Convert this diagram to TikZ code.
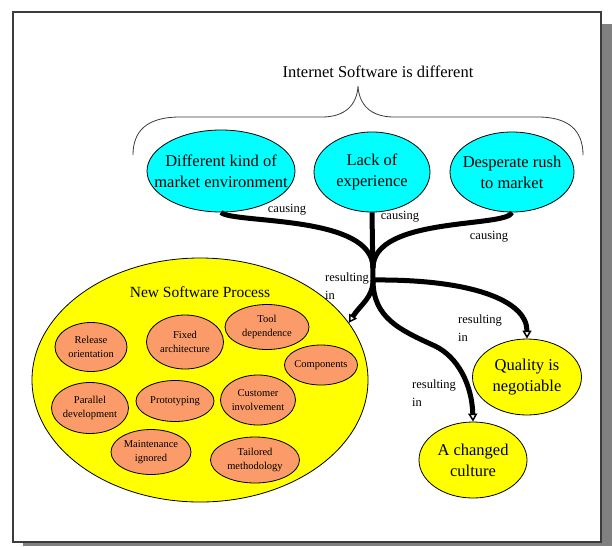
\documentclass[tikz,border=0pt]{standalone}
\usepackage{fontspec}
\setmainfont{Liberation Serif}
\usetikzlibrary{arrows.meta,shapes.geometric}
\definecolor{causecyan}{RGB}{0,255,255}
\definecolor{resultyellow}{RGB}{255,255,0}
\definecolor{practiceorange}{RGB}{250,155,105}
\definecolor{shadowgrey}{RGB}{128,128,128}
\definecolor{framegrey}{RGB}{60,60,60}

\begin{document}
\begin{tikzpicture}[x=1pt,y=-1pt,
  blob/.style={ellipse,draw=black,line width=0.8pt,inner sep=0pt},
  bigtext/.style={align=center,font=\fontsize{16.5}{21}\selectfont},
  smalltext/.style={align=center,font=\fontsize{10.5}{14.5}\selectfont},
  cause/.style={blob,fill=causecyan},
  result/.style={blob,fill=resultyellow},
  practice/.style={blob,fill=practiceorange},
  link/.style={line width=5pt},
  lead/.style={line width=5pt,-{Triangle[open,length=8pt,width=9pt,line width=1.5pt]}},
  linklabel/.style={inner sep=0pt,font=\fontsize{12.5}{17.5}\selectfont}]
\useasboundingbox (0,0) rectangle (612,546);

% page frame with its shadow
\fill[shadowgrey] (601,24) rectangle (612,546);
\fill[shadowgrey] (23,542) rectangle (612,546);
\draw[framegrey,line width=1.5pt,fill=white] (13,12) rectangle (601,542);

% heading and brace
\node[font=\fontsize{16.5}{20}\selectfont] (heading) at (378,72) {Internet Software is different};
\draw[framegrey,line width=0.8pt] (133,155) .. controls (133,130) and (148,117) .. (180,117)
  -- (322,117) .. controls (345,117) and (357,105) .. (358,86)
  .. controls (359,105) and (371,117) .. (394,117)
  -- (538,117) .. controls (568,117) and (583,130) .. (583,155);

% causes
\node[cause,minimum width=148pt,minimum height=82pt,
  label={[bigtext]center:{Different kind of\\market environment}}] (diff) at (221,171) {};
\node[cause,minimum width=116pt,minimum height=80pt,
  label={[bigtext]center:{Lack of\\experience}}] (lack) at (372,172) {};
\node[cause,minimum width=124pt,minimum height=80pt,
  label={[bigtext]center:{Desperate rush\\to market}}] (rush) at (512,172) {};

% results
\node[result,minimum width=336pt,minimum height=244pt,
  label={[font=\fontsize{15.5}{19}\selectfont,yshift=88pt]center:{New Software Process}}] (process) at (200,380) {};
\node[result,minimum width=109pt,minimum height=76pt,
  label={[bigtext]center:{Quality is\\negotiable}}] (quality) at (527,377) {};
\node[result,minimum width=108pt,minimum height=76pt,
  label={[bigtext]center:{A changed\\culture}}] (culture) at (473,460) {};

% parts of the new process
\node[practice,minimum width=72pt,minimum height=49pt,
  label={[smalltext]center:{Release\\orientation}}] (release) at (91,347) {};
\node[practice,minimum width=77pt,minimum height=54pt,
  label={[smalltext]center:{Fixed\\architecture}}] (fixed) at (185,342) {};
\node[practice,minimum width=84pt,minimum height=45pt,
  label={[smalltext]center:{Tool\\dependence}}] (tool) at (267,327) {};
\node[practice,minimum width=73pt,minimum height=40pt,
  label={[smalltext]center:{Components}}] (components) at (321,365) {};
\node[practice,minimum width=77pt,minimum height=51pt,
  label={[smalltext]center:{Parallel\\development}}] (parallel) at (90,408) {};
\node[practice,minimum width=78pt,minimum height=41pt,
  label={[smalltext]center:{Prototyping}}] (prototyping) at (175,401) {};
\node[practice,minimum width=75pt,minimum height=50pt,
  label={[smalltext]center:{Customer\\involvement}}] (customer) at (258,400) {};
\node[practice,minimum width=80pt,minimum height=45pt,
  label={[smalltext]center:{Maintenance\\ignored}}] (maintenance) at (151,452) {};
\node[practice,minimum width=89pt,minimum height=46pt,
  label={[smalltext]center:{Tailored\\methodology}}] (tailored) at (255,460) {};

% connectors
\coordinate (merge) at (373,268);
\coordinate (split) at (373,280);
\draw[link] (diff.south) .. controls (233,224) and (373,214) .. (merge);
\draw[link] (lack.south) -- (split);
\draw[link] (rush.south) .. controls (507,228) and (373,216) .. (merge);

\draw[lead] (split) .. controls (373,298) and (360,305) .. (process.21);
\draw[lead] (split) .. controls (470,279) and (527,300) .. (quality.north);
\draw[lead] (split) .. controls (373,318) and (400,330) .. (435,346)
  .. controls (458,357) and (472,385) .. (culture.north);

\node[linklabel] (causediff) at (287,210) {causing};
\node[linklabel] (causelack) at (400,217) {causing};
\node[linklabel] (causerush) at (489,237) {causing};
\node[linklabel,align=left,anchor=west] (resultproc) at (325,286) {resulting\\in};
\node[linklabel,align=left,anchor=west] (resultqual) at (458,328) {resulting\\in};
\node[linklabel,align=left,anchor=west] (resultcult) at (412,393) {resulting\\in};
\end{tikzpicture}
\end{document}
